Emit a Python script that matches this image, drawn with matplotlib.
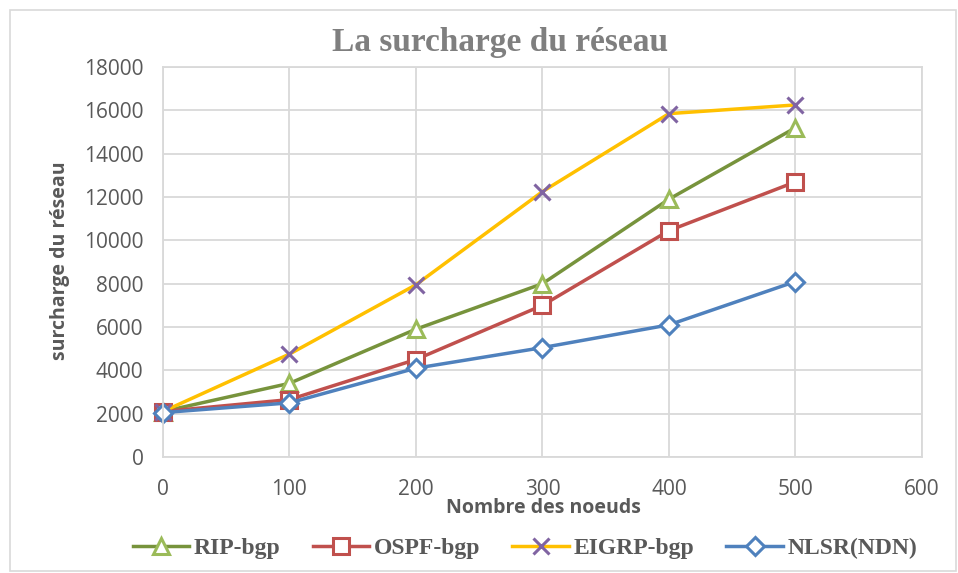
import matplotlib.pyplot as plt
from matplotlib.patches import Rectangle

noeuds = [0, 100, 200, 300, 400, 500]
rip_bgp = [2100, 3400, 5900, 8000, 11900, 15200]
ospf_bgp = [2100, 2650, 4500, 7000, 10450, 12700]
eigrp_bgp = [2100, 4750, 7950, 12250, 15850, 16250]
nlsr_ndn = [2050, 2500, 4100, 5050, 6100, 8100]

fig = plt.figure(figsize=(9.58, 5.73), dpi=100)
ax = fig.add_axes([0.170, 0.2024, 0.7924, 0.6806])

# thin frame around the whole chart
fig.patches.append(Rectangle((0.010, 0.003), 0.988, 0.980, transform=fig.transFigure,
                             fill=False, edgecolor='#d9d9d9', linewidth=1.2))

ax.plot(noeuds, rip_bgp, color='#77933C', lw=2.5, marker='^', ms=11, mfc='white',
        mec='#9BBB59', mew=2.2, label='RIP-bgp', clip_on=False)
ax.plot(noeuds, ospf_bgp, color='#C0504D', lw=2.5, marker='s', ms=11, mfc='white',
        mec='#C0504D', mew=2.2, label='OSPF-bgp', clip_on=False)
ax.plot(noeuds, eigrp_bgp, color='#FFC000', lw=2.5, marker='x', ms=11,
        mec='#8064A2', mew=2.2, label='EIGRP-bgp', clip_on=False)
ax.plot(noeuds, nlsr_ndn, color='#4F81BD', lw=2.5, marker='D', ms=9, mfc='white',
        mec='#4F81BD', mew=2.2, label='NLSR(NDN)', clip_on=False)

ax.set_xlim(0, 600)
ax.set_ylim(0, 18000)
ax.set_xticks(range(0, 601, 100))
ax.set_yticks(range(0, 18001, 2000))
ax.grid(True, color='#d9d9d9', lw=1.3)
ax.set_axisbelow(True)
for s in ax.spines.values():
    s.set_color('#d9d9d9')
    s.set_linewidth(1.3)
ax.tick_params(length=0, labelsize=15, colors='#595959')
ax.tick_params(axis='x', pad=16)
ax.tick_params(axis='y', pad=14)
for lab in ax.get_xticklabels() + ax.get_yticklabels():
    lab.set_family('Open Sans')

fig.text(0.522, 0.926, 'La surcharge du réseau', ha='center', va='center',
         fontsize=24, fontweight='bold', color='#7f7f7f', family='Liberation Serif')
fig.text(0.567, 0.113, 'Nombre des noeuds', ha='center', va='center',
         fontsize=14, fontweight='bold', color='#595959', family='Open Sans')
fig.text(0.063, 0.545, 'surcharge du réseau', ha='center', va='center', rotation=90,
         fontsize=14, fontweight='bold', color='#595959', family='Open Sans')

leg = fig.legend(loc='center', bbox_to_anchor=(0.548, 0.043), ncol=4, frameon=False,
                 prop={'family': 'Liberation Serif', 'weight': 'bold', 'size': 17},
                 handlelength=2.4, columnspacing=1.35, handletextpad=0.2)
for t in leg.get_texts():
    t.set_color('#595959')

fig.savefig('out.png', dpi=100)
